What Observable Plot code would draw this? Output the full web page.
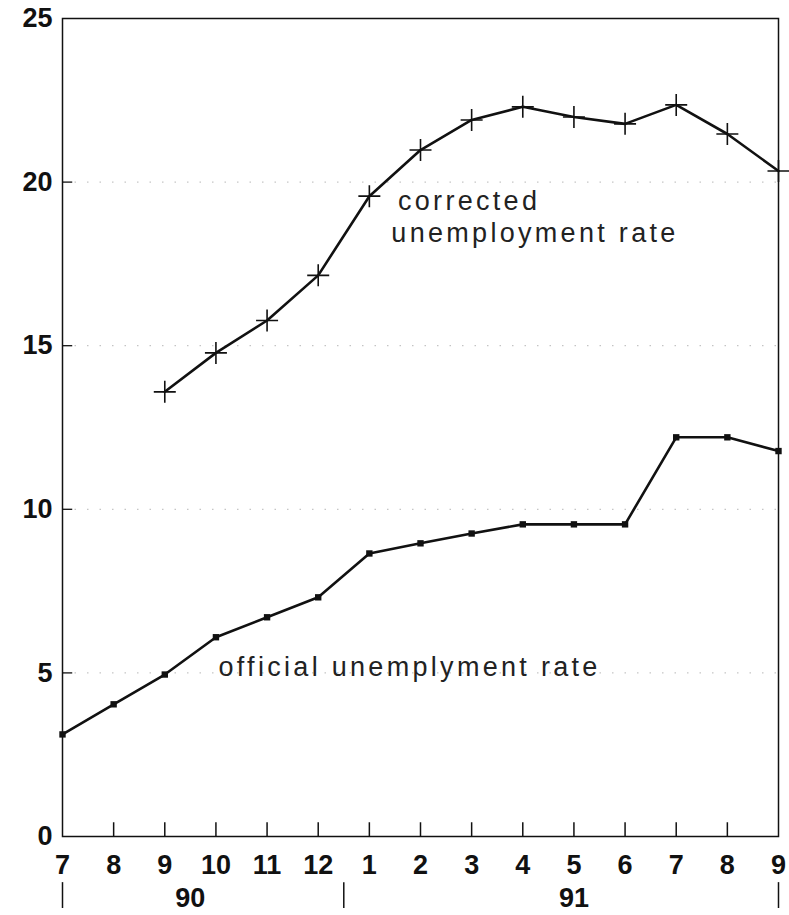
<!DOCTYPE html>
<html>
<head>
<meta charset="utf-8">
<script src="https://cdn.jsdelivr.net/npm/d3@7"></script>
<script src="https://cdn.jsdelivr.net/npm/@observablehq/plot@0.6"></script>
<style>
  html, body { margin: 0; padding: 0; background: #fff; }
  #chart svg { display: block; }
</style>
</head>
<body>
<div id="chart"></div>
<script>
// Month labels (July 1990 .. September 1991)
const months = ["7","8","9","10","11","12","1","2","3","4","5","6","7","8","9"];
// Official unemployment rate (%), one value per month
const official = [3.12, 4.04, 4.95, 6.09, 6.7, 7.31, 8.65, 8.96, 9.26, 9.54, 9.54, 9.54, 12.2, 12.2, 11.78];
// Corrected unemployment rate (%), starts in September 1990
const corrected = [null, null, 13.59, 14.78, 15.77, 17.15, 19.57, 20.98, 21.9, 22.3, 21.99, 21.78, 22.36, 21.47, 20.34];
// Year labels
const years = ["90", "91"];
const yTicks = [0, 5, 10, 15, 20, 25];

const idx = months.map((_, i) => i);
const offData = idx.map(i => ({i, v: official[i]}));
const corData = idx.filter(i => corrected[i] != null).map(i => ({i, v: corrected[i]}));

// thin cross symbol
const thinPlus = {
  draw(context, size) {
    const r = Math.sqrt(size / Math.PI);
    context.moveTo(-r, 0); context.lineTo(r, 0);
    context.moveTo(0, -r); context.lineTo(0, r);
  }
};

const numFont = "'Liberation Sans', Arial, sans-serif";
const lblFont = "'Liberation Sans', Arial, sans-serif";

const chart = Plot.plot({
  width: 789,
  height: 915,
  marginTop: 18,
  marginLeft: 62,
  marginRight: 11,
  marginBottom: 79,
  style: {background: "#fff", color: "#111"},
  x: {type: "linear", domain: [0, months.length - 1], axis: null},
  y: {type: "linear", domain: [0, 25], axis: null},
  marks: [
    // faint dotted grid
    Plot.ruleY([5, 10, 15, 20], {stroke: "#999", strokeWidth: 1, strokeDasharray: "1.5,11", strokeOpacity: 0.7}),
    // inner y ticks
    Plot.ruleY([5, 10, 15, 20], {x1: 0, x2: 0.2, stroke: "#111", strokeWidth: 1.3}),
    Plot.axisY({ticks: yTicks, label: null, tickSize: 0, tickPadding: 10, fontSize: 27, fontWeight: "bold", fontFamily: numFont}),
    // inner x ticks
    Plot.ruleX(idx.slice(1, -1), {x: d => d, y1: 0, y2: 0.42, stroke: "#111", strokeWidth: 1.5}),
    Plot.axisX({ticks: idx, label: null, tickFormat: i => months[i], tickSize: 0, tickPadding: 18, fontSize: 27, fontWeight: "bold", fontFamily: numFont}),
    // year separators and labels
    Plot.ruleX([0, 5.5, 14], {x: d => d, y1: -1.41, y2: -2.2, stroke: "#111", strokeWidth: 1.5}),
    Plot.text(years, {x: [2.5, 10], y: -1.9, text: d => d, fontSize: 27, fontWeight: "bold", fontFamily: numFont, fill: "#111"}),
    // frame
    Plot.frame({stroke: "#111", strokeWidth: 1.5}),
    // series
    Plot.line(offData, {x: "i", y: "v", stroke: "#111", strokeWidth: 2.6}),
    Plot.dot(offData, {x: "i", y: "v", symbol: "square", r: 3.6, fill: "#111", stroke: "none"}),
    Plot.line(corData, {x: "i", y: "v", stroke: "#111", strokeWidth: 2.6}),
    Plot.dot(corData, {x: "i", y: "v", symbol: thinPlus, r: 11, stroke: "#111", strokeWidth: 1.6, fill: "none"}),
    // labels
    Plot.text(["corrected"], {x: 6.56, y: 19.14, text: d => d, textAnchor: "start", lineAnchor: "bottom", fontSize: 27, fontFamily: lblFont, fill: "#222"}),
    Plot.text(["unemployment rate"], {x: 6.43, y: 18.16, text: d => d, textAnchor: "start", lineAnchor: "bottom", fontSize: 27, fontFamily: lblFont, fill: "#222"}),
    Plot.text(["official unemplyment rate"], {x: 3.05, y: 4.89, text: d => d, textAnchor: "start", lineAnchor: "bottom", fontSize: 27, fontFamily: lblFont, fill: "#222"})
  ]
});

// letter spacing for the annotation labels
chart.querySelectorAll("text").forEach(t => {
  const s = t.textContent;
  if (s === "corrected" || s === "unemployment rate" || s === "official unemplyment rate") {
    t.setAttribute("letter-spacing", "3.3");
  }
});
document.getElementById("chart").appendChild(chart);
</script>
</body>
</html>
